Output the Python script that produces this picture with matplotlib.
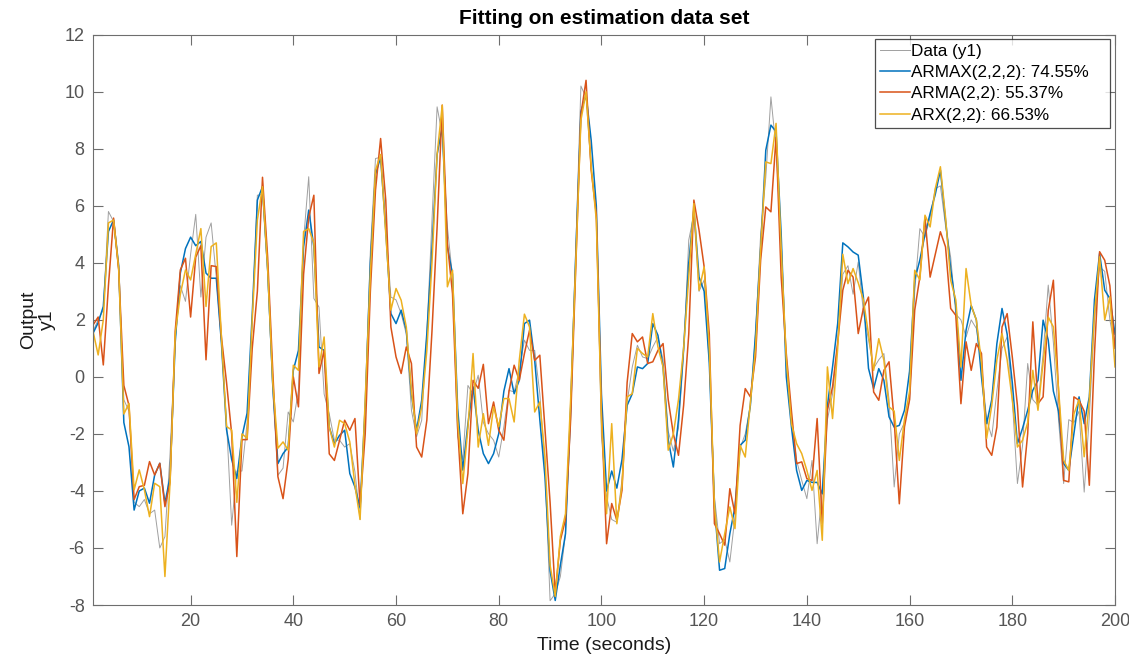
import matplotlib
matplotlib.use('Agg')
import matplotlib.pyplot as plt
import numpy as np

plt.rcParams['font.family'] = ['Liberation Sans', 'DejaVu Sans']
plt.rcParams['axes.unicode_minus'] = False

# measured output (gray)
data_y1 = [1.6, 2.0, 2.35, 5.8, 5.45, 3.7, -0.8, -1.2, -4.4, -4.55,
           -4.3, -4.8, -4.67, -6.0, -5.6, -2.7, 1.3, 3.2, 2.65, 4.3,
           5.7, 2.8, 4.9, 5.4, 3.5, 1.2, -1.6, -5.2, -3.3, -3.3,
           -1.6, 2.0, 6.37, 6.4, 3.6, -0.5, -3.45, -3.2, -1.23, -1.58,
           -0.47, 4.8, 7.02, 2.75, 2.45, -0.6, -1.3, -2.22, -2.22, -2.46,
           -2.34, -3.33, -5.0, -1.0, 4.4, 7.66, 7.7, 5.26, 2.8, 2.7,
           2.22, 1.5, -1.17, -2.1, -1.52, 1.5, 5.5, 9.47, 8.5, 5.26,
           3.5, -2.1, -2.9, -0.3, -0.6, 0.06, -1.6, -1.99, -2.22, -2.81,
           -1.75, -0.47, -0.53, 0.23, 1.29, 0.93, 0.93, -0.59, -3.2, -7.85,
           -7.6, -7.0, -5.5, -0.8, 4.5, 10.2, 9.8, 7.3, 5.8, -2.1,
           -4.2, -5.0, -5.1, -3.6, -0.9, 0.35, 1.11, 0.7, 0.64, 1.05,
           1.4, 0.6, -1.9, -2.6, -1.8, 0.8, 4.8, 5.7, 3.0, 3.4,
           0.5, -4.2, -5.85, -5.7, -6.49, -4.9, -2.5, -2.0, -1.0, 1.5,
           5.0, 7.0, 9.82, 8.0, 4.8, 0.5, -1.5, -2.93, -3.63, -4.27,
           -2.93, -5.85, -3.98, -1.5, -0.6, 1.2, 3.6, 3.9, 2.9, 4.03,
           2.3, 1.3, 0.3, 0.6, 0.82, -0.8, -3.86, -2.0, -1.6, -0.8,
           3.0, 5.2, 4.9, 5.6, 6.6, 6.7, 5.3, 4.2, 2.2, 2.0,
           1.4, 2.0, 1.7, 0.4, -1.5, -2.1, -0.5, 1.0, 1.4, -0.8,
           -3.74, -2.4, 0.47, -0.8, -1.0, 0.8, 3.22, 1.2, -1.5, -3.74,
           -1.5, -1.6, -1.2, -4.04, -1.4, 2.0, 3.86, 3.7, 2.0, 1.0]

armax = [1.53, 1.9, 2.47, 5.1, 5.5, 3.9, -1.6, -2.45, -4.67, -4.0,
         -3.9, -4.43, -3.44, -3.03, -4.43, -3.5, 1.2, 3.64, 4.5, 4.9,
         4.6, 4.75, 3.64, 3.46, 3.46, 1.2, -1.85, -2.9, -3.56, -2.1,
         -1.27, 2.2, 6.2, 6.67, 3.8, -0.3, -3.04, -2.69, -2.46, 0.23,
         0.93, 4.56, 5.85, 4.56, 1.05, 0.93, -1.76, -2.34, -2.05, -1.87,
         -3.39, -3.86, -4.6, -1.0, 4.0, 7.1, 7.7, 5.15, 2.22, 1.87,
         2.34, 1.64, -0.6, -1.87, -0.82, 1.52, 4.5, 7.8, 8.77, 4.56,
         3.6, -1.1, -3.27, -1.64, -0.35, -1.87, -2.69, -3.04, -2.69, -1.99,
         -0.5, 0.29, -0.59, -0.12, 1.87, 1.99, 0.58, -1.5, -3.5, -6.8,
         -7.84, -6.6, -5.5, -1.2, 4.3, 9.3, 9.9, 8.3, 6.0, -0.6,
         -4.0, -3.3, -3.9, -2.9, -1.0, -0.59, 0.35, 0.29, 0.47, 1.87,
         1.46, 0.35, -2.2, -3.16, -1.5, 1.0, 4.0, 5.9, 3.5, 3.0,
         0.5, -4.5, -6.78, -6.72, -5.5, -4.56, -2.4, -2.22, -1.0, 1.5,
         4.5, 7.95, 8.83, 8.6, 5.0, 0.0, -1.76, -3.28, -3.98, -3.63,
         -3.7, -3.7, -4.1, -1.0, 0.35, 1.87, 4.7, 4.56, 4.38, 4.27,
         2.8, 0.3, -0.41, 0.29, -0.12, -1.4, -1.76, -1.7, -1.17, 0.2,
         3.4, 4.1, 5.0, 5.73, 6.4, 7.25, 5.5, 3.8, 2.5, -0.12,
         1.64, 2.5, 2.0, 0.0, -1.64, -0.8, 1.17, 2.4, 1.5, -0.2,
         -2.34, -1.8, -1.17, -0.47, -0.12, 1.99, 1.29, -0.5, -1.2, -3.04,
         -3.28, -2.0, -0.7, -1.64, -0.7, 2.7, 4.33, 3.04, 2.75, 1.5]

arma = [1.82, 2.1, 0.42, 3.2, 5.57, 3.75, -0.3, -1.0, -4.3, -3.85,
        -3.8, -2.97, -3.44, -3.03, -4.55, -3.7, 1.6, 3.75, 4.16, 2.1,
        4.2, 4.6, 0.6, 3.9, 3.87, 1.4, -0.2, -2.0, -6.3, -2.2,
        -2.2, 1.0, 3.0, 7.0, 4.2, 0.2, -3.5, -4.27, -2.9, 0.0,
        -1.05, 3.6, 5.6, 6.37, 0.12, 0.93, -2.7, -2.93, -2.22, -1.52,
        -1.87, -1.46, -4.5, -2.0, 3.0, 6.55, 8.36, 6.2, 1.75, 0.7,
        0.12, 1.05, 0.47, -2.46, -2.81, -1.52, 1.6, 5.26, 9.53, 4.68,
        2.92, -1.8, -4.8, -3.39, -0.12, -0.4, 0.44, -1.64, -0.88, -1.87,
        -2.22, -0.5, 0.41, -0.12, 0.82, 1.64, 0.58, 0.76, -1.8, -4.4,
        -7.6, -5.73, -5.0, -1.5, 3.8, 9.2, 10.4, 7.25, 5.7, -1.2,
        -5.85, -4.44, -5.03, -3.98, -0.2, 1.52, 1.23, 1.4, 0.47, 0.53,
        0.93, 1.17, -0.8, -2.0, -2.75, -1.0, 1.5, 6.2, 5.15, 3.86,
        1.5, -5.15, -5.5, -5.9, -3.92, -4.8, -1.7, -0.41, -0.7, 0.7,
        4.1, 5.96, 5.79, 8.4, 3.5, 0.8, -1.2, -3.04, -2.98, -3.57,
        -3.63, -1.46, -5.15, -1.17, -0.35, 1.2, 3.04, 3.74, 3.5, 1.52,
        2.4, 2.8, -0.53, -0.82, 0.23, 0.53, -1.52, -4.45, -1.76, -0.8,
        2.34, 3.5, 5.6, 3.5, 4.3, 5.09, 4.56, 2.4, 2.16, -0.94,
        1.23, 0.23, 1.17, 0.82, -2.46, -2.75, -1.76, 1.75, 2.22, 0.7,
        -1.0, -3.86, -1.99, 1.93, -0.94, -0.7, 2.34, 3.39, -0.5, -3.63,
        -3.68, -0.7, -0.82, -1.2, -3.8, 0.8, 4.39, 4.09, 3.2, 1.0]

arx = [1.6, 0.77, 2.0, 5.4, 5.5, 3.8, -1.3, -0.93, -3.96, -3.26,
       -3.96, -4.9, -3.73, -3.85, -7.0, -3.7, 1.5, 2.9, 3.75, 3.4,
       4.3, 5.2, 2.47, 4.57, 4.7, 1.4, -1.74, -1.86, -4.4, -2.0,
       -2.15, 2.0, 5.5, 6.67, 3.8, -0.2, -2.5, -2.28, -2.57, 0.41,
       0.23, 5.1, 5.2, 4.7, 0.35, 1.4, -1.76, -2.46, -1.52, -1.64,
       -2.28, -3.8, -5.0, -0.8, 3.6, 7.25, 7.8, 5.03, 2.34, 3.1,
       2.69, 1.75, -0.5, -1.99, -1.05, 0.93, 4.0, 7.8, 9.53, 3.16,
       3.74, -1.5, -3.74, -1.8, 0.82, -2.46, -1.29, -2.4, -1.05, -1.75,
       -0.76, -0.76, -1.58, 0.58, 2.2, 1.75, -1.23, -0.88, -2.8, -6.6,
       -7.7, -5.6, -4.8, -0.8, 4.0, 9.0, 10.0, 7.37, 5.5, -1.5,
       -4.8, -1.64, -5.15, -3.8, -0.7, -0.59, 1.0, 0.82, 0.7, 2.22,
       1.05, 0.35, -2.57, -2.0, -0.8, 1.0, 3.5, 6.08, 3.04, 3.86,
       1.0, -4.5, -6.49, -5.5, -4.56, -5.32, -2.4, -2.81, -0.9, 1.0,
       4.5, 7.54, 7.48, 8.89, 4.5, 0.6, -1.64, -2.34, -2.69, -3.28,
       -3.98, -3.28, -5.73, 0.35, -1.46, 1.0, 4.3, 3.27, 3.8, 3.3,
       2.7, 1.5, 0.23, 1.34, 0.58, -1.05, -1.2, -2.93, -1.5, -0.5,
       3.74, 3.4, 5.67, 5.26, 6.6, 7.37, 5.6, 3.39, 2.7, 0.35,
       3.8, 2.5, 2.0, 0.5, -2.16, -1.0, 0.6, 1.52, 0.6, -0.8,
       -2.46, -2.22, -1.6, 0.23, -1.17, 0.5, 2.1, 1.75, -0.4, -2.92,
       -3.28, -1.3, -0.8, -2.8, -0.8, 2.2, 4.21, 2.0, 2.81, 0.35]

labels = ['Data (y1)', 'ARMAX(2,2,2): 74.55%', 'ARMA(2,2): 55.37%', 'ARX(2,2): 66.53%']
colors = ['#a0a0a0', '#0072bd', '#d95319', '#edb120']

t = np.arange(1, len(data_y1) + 1)

fig = plt.figure(figsize=(11.29, 6.55), dpi=100)
ax = fig.add_axes([0.0824, 0.0763, 0.9052, 0.8707])

ax.plot(t, data_y1, color=colors[0], lw=0.7, label=labels[0])
ax.plot(t, armax, color=colors[1], lw=1.1, label=labels[1])
ax.plot(t, arma, color=colors[2], lw=1.1, label=labels[2])
ax.plot(t, arx, color=colors[3], lw=1.1, label=labels[3])

ax.set_xlim(1, 200)
ax.set_ylim(-8, 12)
ax.set_xticks(np.arange(20, 201, 20))
ax.set_yticks(np.arange(-8, 13, 2))

axc = '#6e6e6e'
for s in ax.spines.values():
    s.set_color(axc)
    s.set_linewidth(0.8)
ax.tick_params(direction='in', length=7, width=0.8, colors=axc, labelsize=13,
               top=True, right=True, pad=6)
for lab in ax.get_xticklabels() + ax.get_yticklabels():
    lab.set_color('#555555')

ax.set_title('Fitting on estimation data set', fontsize=15, fontweight='bold', pad=8)
ax.set_xlabel('Time (seconds)', fontsize=14, labelpad=5, color='#1a1a1a')
ax.set_ylabel('Output\ny1', fontsize=14, labelpad=6, color='#1a1a1a', linespacing=1.15)

# legend box stretched to MATLAB-like width
leg = ax.legend(loc='upper left', bbox_to_anchor=(0.765, 0.0, 0.230, 0.9925),
                mode='expand', fontsize=12.3, frameon=True, fancybox=False,
                handlelength=1.75, handletextpad=0.08, borderpad=0.3,
                labelspacing=0.36, borderaxespad=0.0)
leg.get_frame().set_edgecolor('#222222')
leg.get_frame().set_linewidth(0.9)

fig.savefig('out.png', dpi=100)
